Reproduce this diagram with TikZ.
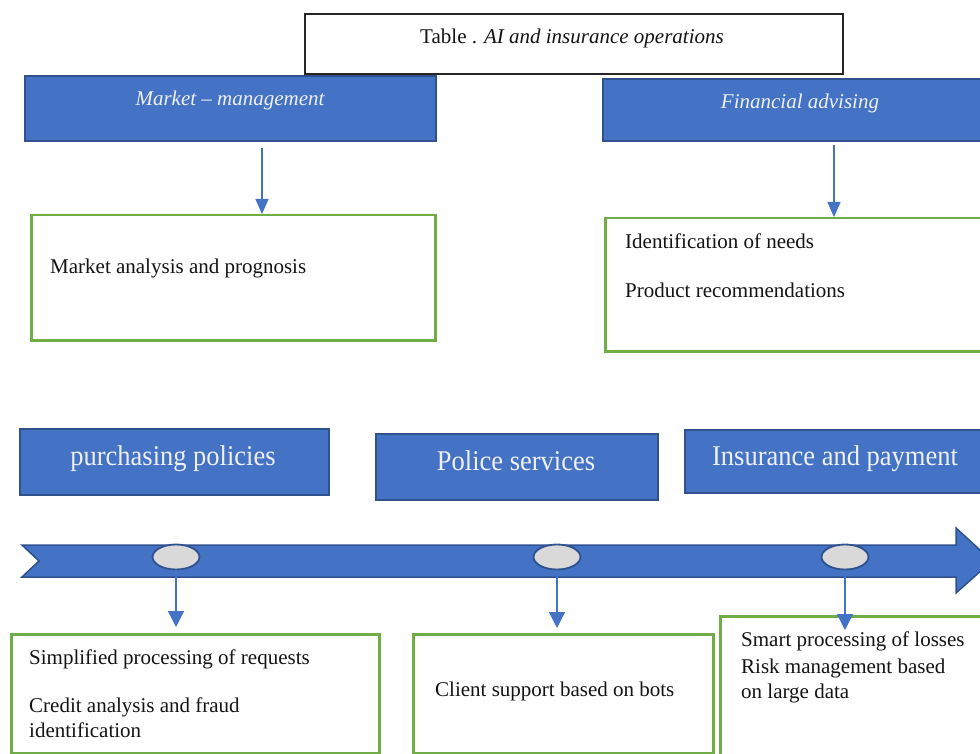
\documentclass[tikz,border=0pt]{standalone}
\usepackage{fontspec}
\usepackage{graphicx}
\setmainfont{Liberation Serif}
\usetikzlibrary{arrows.meta,shapes.geometric}
\definecolor{boxblue}{HTML}{4472C4}
\definecolor{edgeblue}{HTML}{2F528F}
\definecolor{boxgreen}{HTML}{70AD47}
\definecolor{ovalgray}{HTML}{D9D9D9}
\definecolor{inkblack}{HTML}{141414}
\definecolor{paletext}{HTML}{EEF0F6}
\newcommand{\tallstretch}[1]{\scalebox{1}[1.08]{#1}}
\begin{document}
\begin{tikzpicture}[x=1pt,y=-1pt,
  bluebox/.style={draw=edgeblue,fill=boxblue,line width=2pt,anchor=north west,inner sep=0pt},
  greenbox/.style={draw=boxgreen,line width=2.5pt,fill=white,anchor=north west,inner sep=0pt},
  titlebox/.style={draw=black!85,line width=2pt,fill=white,anchor=north west,inner sep=0pt},
  oval/.style={ellipse,draw=edgeblue,fill=ovalgray,line width=1.8pt,minimum width=47pt,minimum height=25pt,inner sep=0pt},
  bodytext/.style={anchor=base west,inner sep=0pt,text=inkblack,font=\fontsize{21}{25}\selectfont},
  headtext/.style={anchor=base,inner sep=0pt,text=paletext,font=\fontsize{21}{25}\selectfont\itshape},
  bigtext/.style={anchor=base,inner sep=0pt,text=paletext,font=\fontsize{26.5}{30}\selectfont},
  conn/.style={draw=boxblue,line width=1.3pt,-{Triangle[width=13pt,length=15pt]}},
  connb/.style={draw=boxblue,line width=1.3pt,-{Triangle[width=16pt,length=16pt]}}]
\clip (0,0) rectangle (980,754);
\fill[white] (0,0) rectangle (980,754);

% title
\node[titlebox,minimum width=538pt,minimum height=60pt] (title) at (304,13) {};
\node[anchor=base,inner sep=0pt,text=inkblack,font=\fontsize{21}{25}\selectfont] (titletext) at (572,44) {Table . \textit{AI and insurance operations}};

% top blue boxes
\node[bluebox,minimum width=411pt,minimum height=65pt] (mm) at (24,75) {};
\node[headtext] (mmtext) at (230,106) {Market – management};
\node[bluebox,minimum width=393pt,minimum height=62pt] (fa) at (602,78) {};
\node[headtext] (fatext) at (800,109) {Financial advising};

% top green boxes
\node[greenbox,minimum width=404pt,minimum height=125pt] (g1) at (30,214) {};
\node[bodytext] (g1t) at (50,273) {Market analysis and prognosis};
\node[greenbox,minimum width=391pt,minimum height=133pt] (g2) at (604,217) {};
\node[bodytext] (g2a) at (625,248) {Identification of needs};
\node[bodytext] (g2b) at (625,297) {Product recommendations};

% top arrows
\coordinate (a1s) at (262,148);
\coordinate (a2s) at (834,145);
\draw[conn] (a1s) -- (a1s |- g1.north);
\draw[conn] (a2s) -- (a2s |- g2.north);

% middle blue boxes
\node[bluebox,minimum width=309pt,minimum height=66pt] (p1) at (19,428) {};
\node[bigtext] (p1t) at (173,465) {\tallstretch{purchasing policies}};
\node[bluebox,minimum width=282pt,minimum height=66pt] (p2) at (375,433) {};
\node[bigtext] (p2t) at (516,470) {\tallstretch{Police services}};
\node[bluebox,minimum width=311pt,minimum height=63pt] (p3) at (684,429) {};
\node[bigtext] (p3t) at (835,465) {\tallstretch{Insurance and payment}};

% big timeline arrow
\filldraw[draw=edgeblue,fill=boxblue,line width=1.5pt,line join=miter]
  (22,545) -- (956,545) -- (956,528) -- (992,561) -- (956,593) -- (956,577)
  -- (22,577) -- (39,561) -- cycle;

\node[oval] (e1) at (176,557) {};
\node[oval] (e2) at (557,557) {};
\node[oval] (e3) at (845,557) {};

% bottom green boxes
\node[greenbox,minimum width=368pt,minimum height=119pt] (b1) at (10,633) {};
\node[bodytext] (b1a) at (29,664) {Simplified processing of requests};
\node[bodytext] (b1b) at (29,712) {Credit analysis and fraud};
\node[bodytext] (b1c) at (29,737) {identification};
\node[greenbox,minimum width=300pt,minimum height=119pt] (b2) at (412,633) {};
\node[bodytext] (b2a) at (435,696) {Client support based on bots};
\node[greenbox,minimum width=276pt,minimum height=160pt] (b3) at (719,615) {};
\node[bodytext] (b3a) at (741,646) {Smart processing of losses};
\node[bodytext] (b3b) at (741,673) {Risk management based};
\node[bodytext] (b3c) at (741,698) {on large data};

% bottom arrows
\coordinate (t3) at (845,630);
\draw[connb,shorten >=6pt] (e1.south) -- (e1.south |- b1.north);
\draw[connb,shorten >=5pt] (e2.south) -- (e2.south |- b2.north);
\draw[connb] (e3.south) -- (t3);
\end{tikzpicture}
\end{document}
